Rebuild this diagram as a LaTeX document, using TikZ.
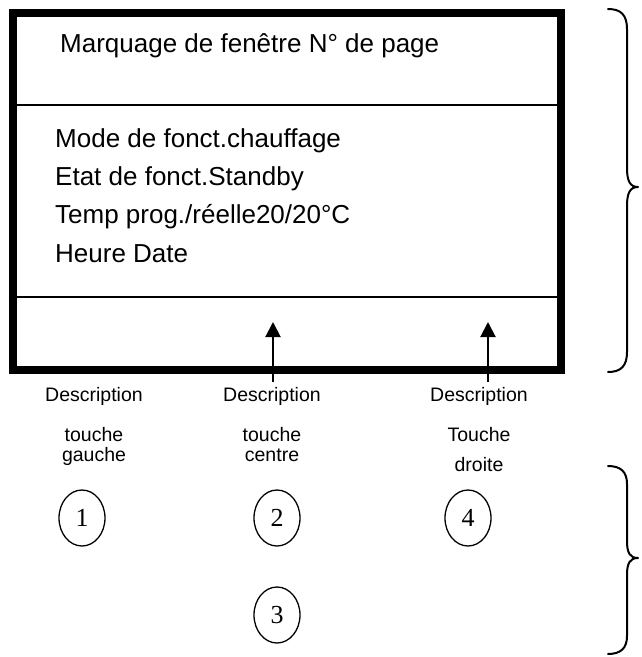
\documentclass[tikz,border=0pt]{standalone}
\usepackage{fontspec}
\setmainfont{Liberation Sans}
\newfontfamily\numfont{Liberation Serif}
\usetikzlibrary{arrows.meta,shapes.geometric}
\tikzset{
  panelbox/.style={draw, line width=8pt, inner sep=0pt, anchor=north west},
  sepline/.style={line width=2pt},
  bigtext/.style={anchor=base west, inner sep=0pt, font=\fontsize{26}{30}\selectfont},
  desctext/.style={anchor=base, inner sep=0pt, font=\fontsize{19.5}{23}\selectfont},
  keybtn/.style={draw, line width=1.3pt, ellipse, minimum width=46pt, minimum height=56pt, inner sep=0pt, font=\numfont\fontsize{26}{28}\selectfont},
  uparrow/.style={line width=2pt, -{Triangle[width=15pt,length=15pt]}},
  bracepath/.style={line width=2pt, line cap=round, line join=round}
}
\begin{document}
\begin{tikzpicture}[x=1pt,y=-1pt]
\useasboundingbox (0,0) rectangle (641,657);
% panel
\node[panelbox, minimum width=548.5pt, minimum height=357pt] (panel) at (8.5,9) {};
\draw[sepline] (panel.west |- 0,105) -- (panel.east |- 0,105);
\draw[sepline] (panel.west |- 0,297) -- (panel.east |- 0,297);
% texts
\node[bigtext] (title) at (60,52) {Marquage de fenêtre N° de page};
\node[bigtext] (l1) at (55,147) {Mode de fonct.chauffage};
\node[bigtext] (l2) at (55,185) {Etat de fonct.Standby};
\node[bigtext] (l3) at (55,223) {Temp prog./réelle20/20°C};
\node[bigtext] (l4) at (55,262) {Heure Date};
% arrows
\coordinate (a1t) at (273,382);
\coordinate (a1h) at (273,322);
\coordinate (a2t) at (488,382);
\coordinate (a2h) at (488,322);
\draw[uparrow] (a1t) -- (a1h);
\draw[uparrow] (a2t) -- (a2h);
% descriptions
\node[desctext] (d1a) at (94,401) {Description};
\node[desctext] (d1b) at (94,441) {touche};
\node[desctext] (d1c) at (94,461) {gauche};
\node[desctext] (d2a) at (272,401) {Description};
\node[desctext] (d2b) at (272,441) {touche};
\node[desctext] (d2c) at (272,461) {centre};
\node[desctext] (d3a) at (479,401) {Description};
\node[desctext] (d3b) at (479,441) {Touche};
\node[desctext] (d3c) at (479,471) {droite};
% keys
\node[keybtn] (k1) at (82,518) {1};
\node[keybtn] (k2) at (277,518) {2};
\node[keybtn] (k4) at (468,518) {4};
\node[keybtn] (k3) at (277,615) {3};
% braces
\draw[bracepath] (608,9) .. controls (621,9) and (627,15) .. (627,29)
  -- (627,168) .. controls (627,181) and (630,187) .. (638,187)
  .. controls (630,187) and (627,193) .. (627,206)
  -- (627,352) .. controls (627,366) and (621,372) .. (608,372);
\draw[bracepath] (608,466) .. controls (621,466) and (627,472) .. (627,484)
  -- (627,541) .. controls (627,553) and (630,558) .. (638,558)
  .. controls (630,558) and (627,563) .. (627,575)
  -- (627,636) .. controls (627,648) and (621,654) .. (608,654);
\end{tikzpicture}
\end{document}
